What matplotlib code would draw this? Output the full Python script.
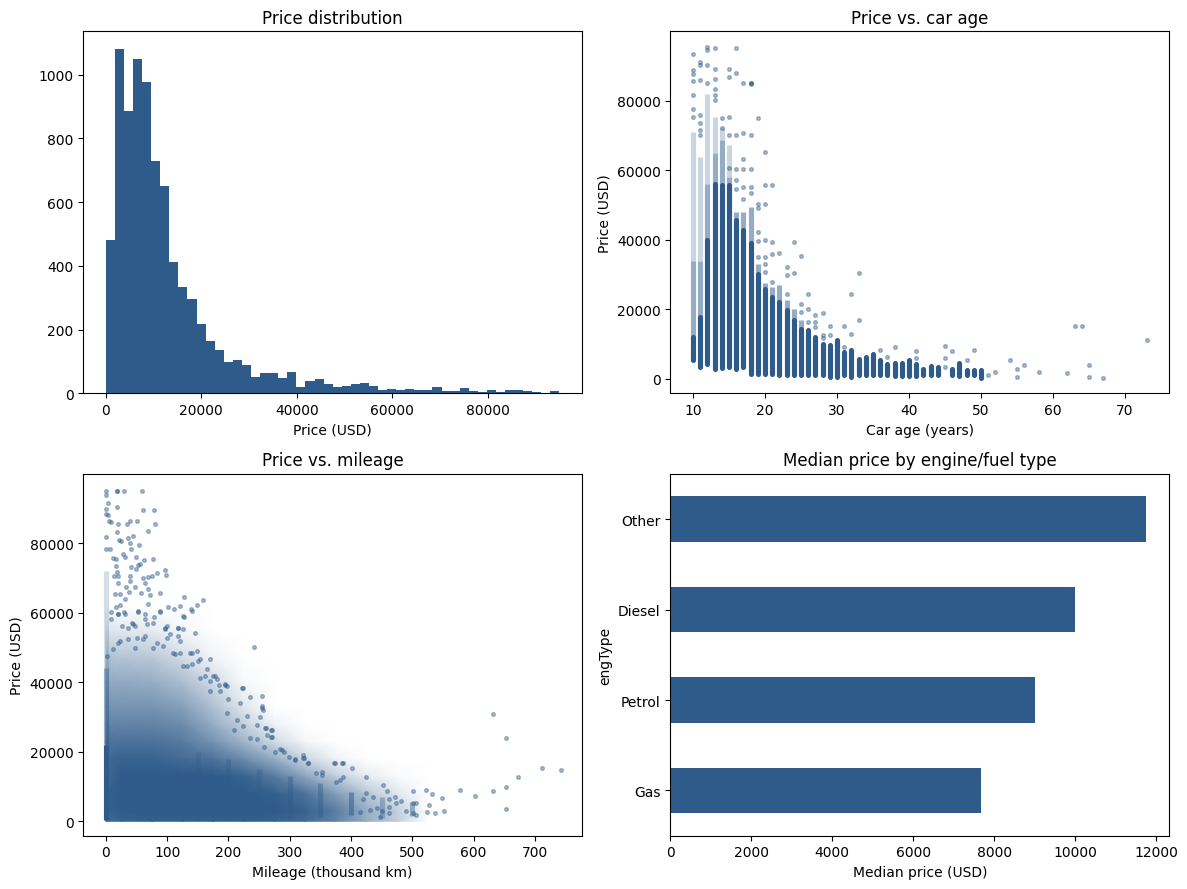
import numpy as np
import matplotlib
matplotlib.use('Agg')
import matplotlib.pyplot as plt
from matplotlib.colors import LinearSegmentedColormap

COLOR = '#2E5B8A'

# ---------------- histogram data ----------------
hist_range = (0, 95000)
hist_counts = [481, 1082, 885, 1050, 978, 730, 649, 413, 333, 297,
               217, 164, 135, 97, 104, 88, 50, 64, 64, 47,
               66, 19, 38, 44, 28, 20, 23, 29, 33, 23,
               11, 13, 11, 13, 11, 11, 20, 8, 8, 17,
               8, 4, 11, 4, 11, 11, 8, 4, 0, 8]

# ---------------- price vs car age ----------------
age_years = list(range(10, 51))
age_low = [5400, 3500, 4300, 2900, 3100, 3300, 2900, 3300, 1400, 1400,
           1400, 1400, 950, 950, 950, 950, 950, 950, 950, 500,
           500, 950, 500, 950, 950, 950, 950, 950, 700, 700,
           700, 700, 950, 950, 950, 950, 950, 700, 950, 950, 300]
age_dense_top = [12000, 17800, 40000, 56000, 55700, 55600, 45600, 42700, 38900, 30200,
                 25900, 23500, 22100, 19700, 16800, 14400, 13900, 12000, 10100, 9600,
                 11200, 7700, 8200, 5800, 6200, 7000, 5300, 4300, 4500, 4500,
                 5500, 4300, 2900, 3800, 3300, 950, 2900, 4500, 2600, 2400, 2400]
age_mid_top = [34000, 34000, 56000, 64800, 68700, 58100, 48000, 48000, 49500, 33100,
               27400, 26400, 26900, 22600, 20200, 16800, 13900, 12000, 10100, 9600,
               11200, 7700, 8200, 5800, 6200, 7000, 5300, 4300, 4500, 4500,
               5500, 4300, 2900, 3800, 3300, 950, 2900, 4500, 2600, 2400, 2400]
age_light_top = [71000, 63900, 82000, 75400, 72000, 67200, 48000, 48000, 49500, 33100,
                 27400, 26400, 26900, 22600, 20200, 16800, 13900, 12000, 10100, 9600,
                 11200, 7700, 8200, 5800, 6200, 7000, 5300, 4300, 4500, 4500,
                 5500, 4300, 2900, 3800, 3300, 950, 2900, 4500, 2600, 2400, 2400]

age_out_x = [10, 10, 10, 10, 10, 10, 10,
             11, 11, 11, 11, 11, 11, 11,
             12, 12, 12, 12,
             13, 13, 13, 13, 13, 13,
             14, 14,
             15, 15, 15, 15, 15,
             16, 16, 16, 16, 16, 16,
             17, 17, 17, 17, 17, 17,
             18, 18, 18, 18, 18, 18, 18,
             19, 19, 19, 19, 19, 19,
             20, 20, 20, 20, 20, 20, 20,
             21, 21, 21, 21,
             22,
             23, 23, 23,
             24, 24,
             25, 25, 25,
             26, 26, 26,
             27, 27, 27,
             28, 28, 28,
             29, 29,
             31, 31,
             32, 32,
             33, 33,
             36, 37, 38, 41, 41, 45, 45, 45, 46, 48, 49,
             51, 52, 54, 55, 55, 56, 58, 62, 63, 64, 65, 65, 67, 73]
age_out_y = [93500, 88900, 87500, 85500, 81500, 77600, 75200,
             91200, 90300, 85800, 75900, 73500, 71600, 70100,
             95500, 94600, 90300, 85000,
             95100, 89100, 86200, 83300, 81600, 80200,
             74900, 72000,
             89100, 86700, 75200, 70100, 60500,
             95100, 87900, 70100, 60200, 57200, 54700,
             85000, 70600, 63100, 60200, 55200, 51600,
             85000, 85000, 84700, 70100, 60200, 55200, 53300,
             74900, 50200, 49000, 42300, 39700, 35100,
             65100, 55700, 50200, 40000, 35100, 33100, 30700,
             55700, 39300, 35800, 27700,
             36200,
             32200, 29800, 24500,
             39300, 30500,
             35300, 21600, 19200,
             24500, 20200, 16300,
             18200, 16300, 14900,
             19000, 12700, 11700,
             15100, 12500,
             15100, 9100,
             24300, 13000,
             30300, 16800,
             8300, 6200, 9000, 6000, 8100, 9500, 6100, 3300, 7900, 5500, 8200,
             1000, 1900, 5500, 2900, 600, 4100, 2000, 1700, 15100, 15100, 4000, 600, 300, 11200]

# ---------------- price vs mileage ----------------
# density of the point cloud (0 = empty, 1 = solid) on a grid
mil_grid = [0, 25, 75, 125, 175, 225, 275, 325, 375, 425, 475, 525]
mil_price_grid = [0, 3000, 8000, 13000, 18000, 23000, 28000, 33000, 40000, 47000, 55000, 62000]
mil_density = [
    [0.90, 0.95, 0.97, 0.97, 0.97, 0.97, 0.95, 0.90, 0.75, 0.50, 0.30, 0.00],
    [0.95, 1.00, 1.00, 1.00, 1.00, 1.00, 1.00, 0.95, 0.80, 0.50, 0.30, 0.00],
    [0.95, 1.00, 1.00, 1.00, 1.00, 1.00, 0.97, 0.85, 0.60, 0.35, 0.15, 0.00],
    [0.90, 1.00, 1.00, 1.00, 1.00, 0.95, 0.80, 0.55, 0.30, 0.12, 0.03, 0.00],
    [0.90, 0.95, 0.95, 0.90, 0.85, 0.70, 0.50, 0.25, 0.08, 0.00, 0.00, 0.00],
    [0.85, 0.85, 0.85, 0.80, 0.65, 0.45, 0.22, 0.05, 0.00, 0.00, 0.00, 0.00],
    [0.75, 0.75, 0.75, 0.70, 0.50, 0.28, 0.08, 0.00, 0.00, 0.00, 0.00, 0.00],
    [0.65, 0.65, 0.65, 0.58, 0.38, 0.15, 0.00, 0.00, 0.00, 0.00, 0.00, 0.00],
    [0.52, 0.52, 0.50, 0.40, 0.22, 0.04, 0.00, 0.00, 0.00, 0.00, 0.00, 0.00],
    [0.38, 0.36, 0.34, 0.22, 0.07, 0.00, 0.00, 0.00, 0.00, 0.00, 0.00, 0.00],
    [0.16, 0.14, 0.12, 0.05, 0.00, 0.00, 0.00, 0.00, 0.00, 0.00, 0.00, 0.00],
    [0.00, 0.00, 0.00, 0.00, 0.00, 0.00, 0.00, 0.00, 0.00, 0.00, 0.00, 0.00],
]
# columns of repeated round mileage values
mil_col_x = [0, 0, 0, 150, 200, 250, 300, 350, 400, 450, 500]
mil_col_low = [300, 22000, 44000, 500, 500, 500, 500, 1300, 1700, 1000, 1500]
mil_col_high = [22000, 44000, 72000, 20000, 18000, 15000, 13000, 11000, 8500, 7000, 5500]
mil_col_alpha = [1.0, 0.5, 0.2, 0.3, 0.35, 0.3, 0.4, 0.4, 0.5, 0.35, 0.45]

mil_pts_x = [0, 0, 4, 17.5, 19, 30, 59.5, 19, 61, 79, 1, 1, 4, 5.5, 9, 20, 34, 39, 51, 81,
             69, 17.5, 1, 22, 24.5, 35.5, 45, 39, 54.5, 41, 1, 7, 28.5, 31, 49, 12, 16, 63, 77.5,
             41, 52, 55.5, 50, 16, 19, 96.5, 83.5, 98, 13.5, 20, 40, 60, 69, 76, 40, 20, 32.7,
             47.5, 64, 69, 58, 89, 72, 38, 31, 14.7, 23, 128, 159, 148, 121, 101, 112, 69, 23,
             16, 8, 20, 30, 53, 88, 128, 140, 79, 64, 8, 42, 25.6, 47.5, 96.5, 118, 126.6,
             145.6, 241, 170, 175.6, 181, 195, 222, 235.6, 254.7, 200, 252, 260, 270, 270,
             287.5, 298, 309, 323, 330, 372, 385.7,
             113, 94, 140, 77.5, 64, 36.5, 20, 47.5, 118, 99, 151, 126.6, 162,
             632, 652, 712, 743, 673, 652, 632, 603, 577, 652, 549, 532, 523, 527, 552, 537,
             524, 501, 501, 506, 501, 506, 490, 482, 473, 472, 459, 452, 462, 462, 462, 451,
             424, 401, 387, 374, 329, 322, 322,
             343, 353, 353, 387, 382, 376, 420, 425, 436, 442, 431, 447, 414,
             126.6, 138.6, 88.4, 53, 20, 31, 63.8, 99.3, 118.4, 104.8, 121, 137.5, 148.4,
             140.2, 153.9, 170.2, 178.4, 183.9, 194.8, 186.6, 170.2, 223.7, 254.8, 219.3,
             197.5, 213.9, 230.2, 254.8, 256.4, 223.7, 246.6, 261.3, 271.1, 262.9, 271.1,
             235.7, 246.6, 208.4, 284.8, 290.2, 276.6, 257.5, 308.2, 197.5, 164.8, 153.9,
             132, 121, 110.2, 96.6, 77.5, 66.6, 44.8, 36.6, 22.9, 12, 1.1, 61, 83, 50.2]
mil_pts_y = [95000, 93700, 91500, 95000, 95100, 95100, 95100, 90400, 89600, 89600, 89700,
             88400, 87950, 86200, 86000, 85550, 85550, 86200, 86300, 85550,
             83350, 83150, 81700, 81000, 80450, 81400, 82000, 80050, 79500, 78300, 78150,
             78150, 76900, 75900, 75900, 75600, 75450, 75250, 75450,
             73030, 73700, 74000, 72550, 73320, 71780, 72350, 71300, 70910, 70430, 70430,
             70430, 69850, 70140, 70430, 69180, 68500, 67250,
             67250, 68500, 66770, 65620, 65620, 65040, 65810, 63880, 65330, 65330, 64360,
             63590, 62250, 61760, 61470, 60990, 62440, 62150,
             61670, 60220, 59550, 60220, 60220, 60220, 58880, 60320, 58880, 58110, 58110,
             56950, 56180, 56180, 55700, 55600, 55220,
             54250, 50200, 46550, 41730, 40960, 39610, 38360, 35760, 32580, 35180, 29980,
             26810, 26330, 24210,
             20550, 18620, 17660, 18140, 16700, 16700, 16700,
             48000, 50400, 48480, 49920, 53290, 52330, 51370, 49920, 53290, 52810, 46070,
             44620, 41730,
             30840, 23900, 15240, 14660, 12640, 9750, 8590, 7150, 8880, 3390, 6570, 7730,
             8980, 4550, 2820, 2240,
             2530, 8590, 5320, 5320, 2430, 1950, 2820, 5700, 5120, 6860, 8590, 10330, 6280,
             3970, 2240, 2820,
             12640, 15240, 16680, 16680, 16680, 18990, 18130,
             13790, 14080, 13220, 12640, 11770, 11190, 6380, 8000, 7050, 3680, 3200, 1270, 2720,
             59050, 60980, 60500, 60500, 59500, 59500, 59500, 56200, 55700, 53760, 51830,
             48460, 48940,
             45090, 41240, 40280, 41720, 39310, 39310, 37390, 37390, 38350, 36140, 34020,
             31130, 29200, 30170, 33050, 32090, 27470, 27760, 26790, 26310, 24870, 24190,
             23900, 23620, 26310, 20730, 20050, 20050, 21500, 17840, 38830, 43650, 46530,
             44610, 48460, 48460, 55200, 57130, 56650, 56650, 55700, 51830, 49420, 47500,
             52310, 51350, 52800]

# ---------------- median price by engine type ----------------
eng_types = ['Gas', 'Petrol', 'Diesel', 'Other']
eng_median = [7670, 9000, 10000, 11740]

# ================= drawing =================
PT_SIZE = 7
PT_ALPHA = 0.4
COL_LW = 3.7

fig, axes = plt.subplots(2, 2, figsize=(12, 9))
ax1, ax2, ax3, ax4 = axes.ravel()

# Histogram
edges = np.linspace(hist_range[0], hist_range[1], len(hist_counts) + 1)
centers = (edges[:-1] + edges[1:]) / 2
ax1.hist(centers, bins=edges, weights=hist_counts, color=COLOR)
ax1.set_title('Price distribution')
ax1.set_xlabel('Price (USD)')

# Price vs age
ax2.vlines(age_years, age_mid_top, age_light_top, colors=COLOR, alpha=0.25,
           linewidth=COL_LW, capstyle='butt')
ax2.vlines(age_years, age_dense_top, age_mid_top, colors=COLOR, alpha=0.5,
           linewidth=COL_LW, capstyle='butt')
ax2.vlines(age_years, age_low, age_dense_top, colors=COLOR, alpha=1.0,
           linewidth=COL_LW, capstyle='round')
ax2.scatter(age_out_x, age_out_y, s=PT_SIZE, alpha=PT_ALPHA, color=COLOR)
ax2.set_xlim(6.85, 76.15)
ax2.set_ylim(-4150, 99900)
ax2.set_title('Price vs. car age')
ax2.set_xlabel('Car age (years)')
ax2.set_ylabel('Price (USD)')

# Price vs mileage
cmap = LinearSegmentedColormap.from_list('dens', ['#ffffff', COLOR])
ax3.pcolormesh(mil_grid, mil_price_grid, np.array(mil_density), shading='gouraud',
               cmap=cmap, vmin=0, vmax=1, zorder=1)
for x, lo, hi, a in zip(mil_col_x, mil_col_low, mil_col_high, mil_col_alpha):
    ax3.vlines([x], [lo], [hi], colors=COLOR, alpha=a, linewidth=COL_LW,
               capstyle='butt', zorder=2)
ax3.scatter(mil_pts_x, mil_pts_y, s=PT_SIZE, alpha=PT_ALPHA, color=COLOR, zorder=3)
ax3.set_xlim(-37, 777)
ax3.set_ylim(-4150, 99900)
ax3.set_title('Price vs. mileage')
ax3.set_xlabel('Mileage (thousand km)')
ax3.set_ylabel('Price (USD)')

# Median price by engine type
ax4.barh(eng_types, eng_median, height=0.5, color=COLOR)
ax4.set_ylim(-0.5, 3.5)
ax4.set_title('Median price by engine/fuel type')
ax4.set_xlabel('Median price (USD)')
ax4.set_ylabel('engType')

fig.tight_layout()
fig.savefig('out.png', dpi=100, bbox_inches='tight')
